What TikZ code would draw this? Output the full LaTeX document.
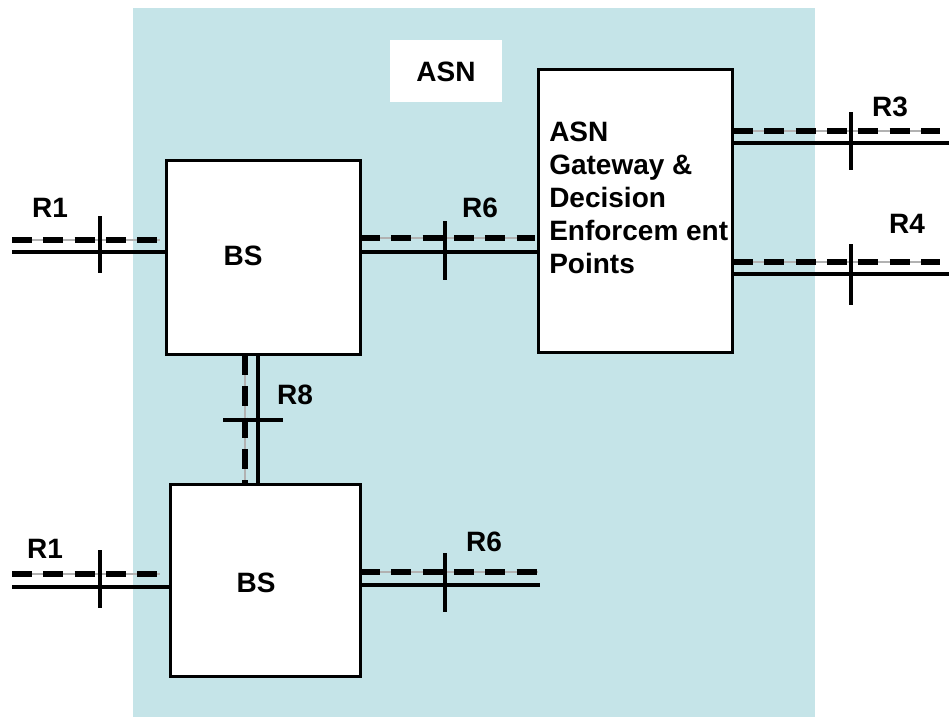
\documentclass[tikz,border=0pt]{standalone}
\usepackage{fontspec}
\setmainfont{Liberation Sans}
\definecolor{asnblue}{RGB}{197,228,232}

\begin{document}
\begin{tikzpicture}[x=0.75pt,y=-0.75pt,
  box/.style={draw,line width=2.25pt,fill=white,inner sep=0pt},
  lbl/.style={font=\bfseries\fontsize{21}{24.75}\selectfont,inner sep=0pt},
  wire/.style={line width=3.2pt},
  tick/.style={line width=2.6pt},
  ctrl/.style={line width=4.25pt,dash pattern=on 15pt off 8.5pt},
  ctrlbase/.style={line width=0.8pt,gray!60}]
  \useasboundingbox (0,0) rectangle (949,717);
  \fill[asnblue] (133,8) rectangle (815,717);

  \node[fill=white,minimum width=84pt,minimum height=46.5pt,inner sep=0pt] (asn) at (446,71) {};
  \node[lbl] (asntxt) at (446,72) {ASN};

  \node[box,minimum width=145pt,minimum height=146pt] (bs1) at (263.5,257.5) {};
  \node[lbl] (bs1txt) at (243,256) {BS};
  \node[box,minimum width=142.5pt,minimum height=144pt] (bs2) at (265,580) {};
  \node[lbl] (bs2txt) at (256,583) {BS};
  \node[box,minimum width=146pt,minimum height=211.5pt] (gw) at (635.5,211) {};
  \node[lbl,anchor=north west,align=left] (gwtxt) at (549,122)
    {ASN\\Gateway \&\\Decision\\Enforcem ent\\Points};

  % free ends of the reference points
  \coordinate (r1a) at (12,252);
  \coordinate (r1b) at (12,587);
  \coordinate (r6b) at (540,585);
  \coordinate (r3) at (949,143);
  \coordinate (r4) at (949,274);

  % R1 (top)
  \draw[ctrlbase] (12,240) -- (160,240);
  \draw[ctrl] (12,240) -- (160,240);
  \draw[wire] (r1a) -- (r1a -| bs1.west);
  \draw[tick] (100,216) -- (100,273);
  \node[lbl] (r1atxt) at (50,208) {R1};

  % R6 (top)
  \draw[ctrlbase] (360,238) -- (535,238);
  \draw[ctrl] (360,238) -- (535,238);
  \draw[wire] (bs1.east |- r1a) -- (gw.west |- r1a);
  \draw[tick] (445,221) -- (445,280);
  \node[lbl] (r6atxt) at (480,208) {R6};

  % R3 and R4
  \draw[ctrlbase] (733,131) -- (940,131);
  \draw[ctrl] (733,131) -- (940,131);
  \draw[wire] (gw.east |- r3) -- (r3);
  \draw[tick] (851,112) -- (851,170);
  \node[lbl] (r3txt) at (890,107) {R3};

  \draw[ctrlbase] (733,262) -- (940,262);
  \draw[ctrl] (733,262) -- (940,262);
  \draw[wire] (gw.east |- r4) -- (r4);
  \draw[tick] (851,244) -- (851,305);
  \node[lbl] (r4txt) at (907,224) {R4};

  % R8
  \draw[ctrlbase] (245,355) -- (245,484);
  \draw[ctrl] (245,355) -- (245,484);
  \draw[wire] (bs1.south -| 258,0) -- (bs2.north -| 258,0);
  \draw[tick] (223,420) -- (283,420);
  \node[lbl] (r8txt) at (295,395) {R8};

  % R1 and R6 (bottom)
  \draw[ctrlbase] (12,574) -- (160,574);
  \draw[ctrl] (12,574) -- (160,574);
  \draw[wire] (r1b) -- (r1b -| bs2.west);
  \draw[tick] (100,550) -- (100,608);
  \node[lbl] (r1btxt) at (45,549) {R1};

  \draw[ctrlbase] (360,572) -- (538,572);
  \draw[ctrl] (360,572) -- (538,572);
  \draw[wire] (bs2.east |- r6b) -- (r6b);
  \draw[tick] (445,553) -- (445,612);
  \node[lbl] (r6btxt) at (484,542) {R6};
\end{tikzpicture}
\end{document}
